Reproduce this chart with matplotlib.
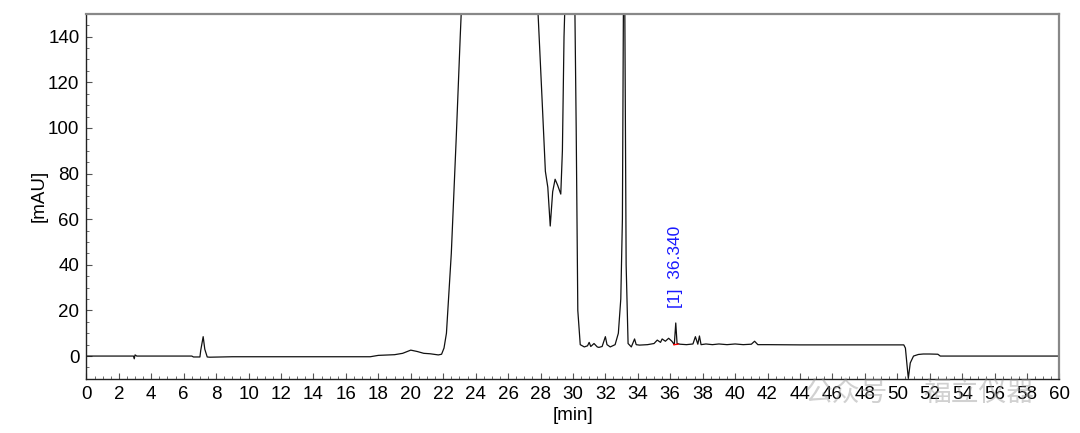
import numpy as np
import matplotlib
matplotlib.use("Agg")
import matplotlib.pyplot as plt
from matplotlib.ticker import MultipleLocator

plt.rcParams["font.family"] = ["Liberation Sans", "Noto Sans CJK SC", "DejaVu Sans"]

# ── chromatogram trace (min, mAU) ─────────────────────────────────
t = [0.0, 2.9, 2.95, 3.0, 3.05, 3.1, 6.5, 6.6, 7.0, 7.05, 7.2, 7.3, 7.45, 7.6, 9.0,
     17.5, 18.0, 19.0, 19.5, 20.0, 20.4, 20.8, 21.2, 21.7, 21.9, 22.05, 22.2,
     22.5, 22.8, 23.05, 23.2,
     27.7, 27.85, 28.1, 28.3, 28.45, 28.6, 28.75, 28.9, 29.05, 29.25, 29.35, 29.45, 29.55,
     30.1, 30.2, 30.3, 30.45, 30.7, 30.9, 31.0, 31.1, 31.3, 31.5, 31.6, 31.8, 32.0,
     32.1, 32.3, 32.6, 32.8, 32.95, 33.05, 33.12, 33.2, 33.28, 33.4, 33.6, 33.8, 33.9,
     34.1, 34.6, 35.0, 35.2, 35.4, 35.5, 35.7, 35.9, 36.1, 36.25, 36.34, 36.42, 36.6,
     37.0, 37.4, 37.55, 37.7, 37.8, 37.9, 38.2, 38.6, 39.0, 39.5, 40.0, 40.5, 41.0,
     41.2, 41.4, 42.0, 44.0, 50.4, 50.5, 50.6, 50.68, 50.8, 51.0, 51.3, 51.6, 52.0,
     52.5, 52.65, 60.0]
y = [0.0, 0.0, -1.2, 0.5, 0.3, 0.0, 0.0, -0.4, -0.4, 2.5, 8.5, 3.0, -0.4, -0.5, -0.3,
     -0.3, 0.3, 0.6, 1.2, 2.6, 2.0, 1.2, 1.0, 0.5, 0.8, 3.5, 10.0,
     45.0, 95.0, 140.0, 165.0,
     165.0, 150.0, 112.0, 81.0, 74.0, 57.0, 72.0, 77.5, 75.0, 71.0, 90.0, 140.0, 165.0,
     165.0, 100.0, 20.0, 5.0, 4.0, 4.5, 6.0, 4.2, 5.5, 4.0, 3.8, 4.2, 8.5,
     5.0, 4.0, 5.0, 10.0, 25.0, 60.0, 165.0, 150.0, 40.0, 5.5, 4.0, 7.5, 5.0,
     4.8, 5.0, 5.5, 7.0, 6.0, 7.5, 6.5, 7.8, 6.5, 5.0, 14.5, 5.5, 5.2,
     5.0, 5.3, 8.5, 5.2, 8.8, 5.0, 5.3, 5.0, 5.3, 5.0, 5.3, 5.0, 5.2,
     6.5, 5.0, 5.0, 4.9, 4.9, 3.5, -4.0, -9.8, -3.0, 0.0, 0.7, 0.9, 0.9,
     0.8, 0.0, 0.0]

# integration baseline for peak [1]
bl_t = [36.22, 36.48]
bl_y = [5.0, 5.2]

peak_rt = 36.340
peak_label = "[1]  36.340"

fig, ax = plt.subplots(figsize=(10.8, 4.33), dpi=100)
fig.subplots_adjust(left=0.08, right=0.981, top=0.968, bottom=0.125)

ax.plot(t, y, color="#111111", linewidth=0.9)
ax.plot(bl_t, bl_y, color="red", linewidth=1.0)

ax.text(peak_rt, 21, peak_label, rotation=90, color="#1a1aff", fontsize=12.5,
        ha="center", va="bottom")

ax.set_xlim(0, 60)
ax.set_ylim(-10, 150)
ax.xaxis.set_major_locator(MultipleLocator(2))
ax.xaxis.set_minor_locator(MultipleLocator(0.5))
ax.yaxis.set_major_locator(MultipleLocator(20))
ax.yaxis.set_minor_locator(MultipleLocator(5))
ax.tick_params(which="both", direction="in", labelsize=13.5, color="#555555")
ax.tick_params(which="major", length=4, pad=5)
ax.tick_params(which="minor", length=2)

for side in ["top", "right"]:
    ax.spines[side].set_color("#888888")
    ax.spines[side].set_linewidth(1.6)
for side in ["left", "bottom"]:
    ax.spines[side].set_color("#222222")
    ax.spines[side].set_linewidth(1.0)

ax.set_xlabel("[min]", fontsize=13.5, labelpad=3)
ax.set_ylabel("[mAU]", fontsize=13.5, labelpad=0)

# watermark
wm_font = ["Noto Sans CJK SC", "DejaVu Sans"]
fig.text(0.745, 0.092, "公众号", fontsize=20, color="#999999", alpha=0.45,
         ha="left", va="center", family=wm_font)
fig.text(0.855, 0.092, "福立仪器", fontsize=20, color="#999999", alpha=0.45,
         ha="left", va="center", family=wm_font)

fig.savefig("out.png", dpi=100)
